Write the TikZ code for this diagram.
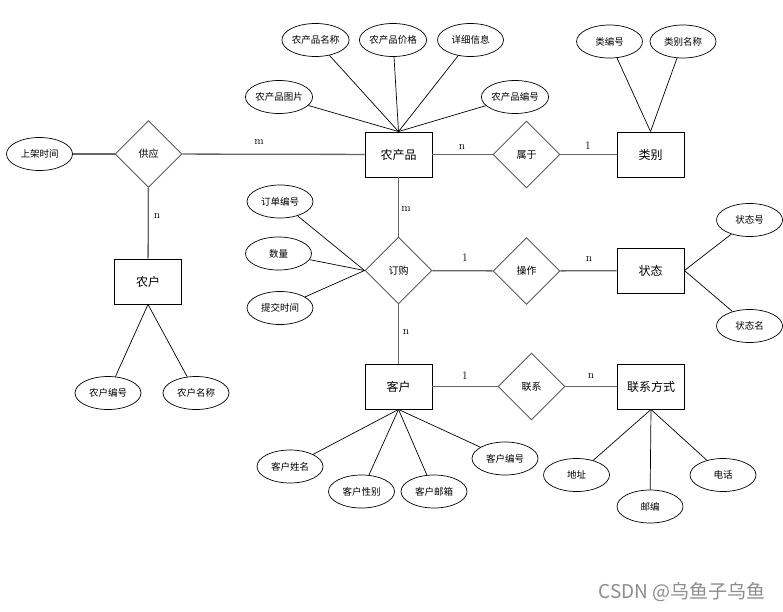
\documentclass[tikz,border=0pt]{standalone}
\usepackage{fontspec}
\newfontfamily\cjk{Noto Sans CJK SC}
\usetikzlibrary{shapes.geometric}
\begin{document}
\begin{tikzpicture}[x=1pt,y=-1pt,
    entity/.style={draw,rectangle,line width=0.9pt,minimum width=67pt,minimum height=45pt,inner sep=0pt,font=\cjk\fontsize{12}{12}\selectfont},
    attr/.style={draw,ellipse,line width=0.7pt,minimum width=66pt,minimum height=33pt,inner sep=0pt,font=\cjk\fontsize{9.5}{10}\selectfont},
    rel/.style={draw=black!65,diamond,line width=0.9pt,minimum width=67pt,minimum height=67pt,inner sep=0pt,font=\cjk\fontsize{10}{10}\selectfont},
    link/.style={black!60,line width=1.3pt},
    spoke/.style={line width=0.7pt},
    card/.style={inner sep=0pt,font=\fontsize{11.5}{11.5}\selectfont}]
    \useasboundingbox (0,0) rectangle (783,611);
    \node [entity] (np) at (398.5,154.5) {农产品};
    \node [entity] (lb) at (650.5,154.5) {类别};
    \node [entity] (nh) at (148,281.5) {农户};
    \node [entity] (zt) at (650.5,270.5) {状态};
    \node [entity] (kh) at (398.5,386.5) {客户};
    \node [entity] (lxfs) at (651,386.5) {联系方式};
    \node [rel] (gy) at (148.5,154) {供应};
    \node [rel] (sy) at (526.5,154.5) {属于};
    \node [rel] (dg) at (398.5,270.5) {订购};
    \node [rel] (cz) at (526.5,271) {操作};
    \node [rel] (lx) at (531.5,386.5) {联系};
    \node [attr] (npmc) at (315.5,40) {农产品名称};
    \node [attr] (npjg) at (393,40) {农产品价格};
    \node [attr] (xxxx) at (470.5,40) {详细信息};
    \node [attr] (nptp) at (279,97) {农产品图片};
    \node [attr] (npbh) at (515,97) {农产品编号};
    \node [attr] (lbh) at (609.5,41.5) {类编号};
    \node [attr] (lbmc) at (683,41.5) {类别名称};
    \node [attr] (zth) at (749.5,220) {状态号};
    \node [attr] (ztm) at (749.5,326) {状态名};
    \node [attr] (sjsj) at (39.5,154) {上架时间};
    \node [attr] (ddbh) at (280,201.5) {订单编号};
    \node [attr] (sl) at (278.5,253.5) {数量};
    \node [attr] (tjsj) at (280,308) {提交时间};
    \node [attr] (nhbh) at (108,393) {农户编号};
    \node [attr] (nhmc) at (196,393) {农户名称};
    \node [attr] (khxm) at (290,466.5) {客户姓名};
    \node [attr] (khxb) at (361.5,491.5) {客户性别};
    \node [attr] (khyx) at (434,491.5) {客户邮箱};
    \node [attr] (khbh) at (505,458.5) {客户编号};
    \node [attr] (dz) at (576.5,475) {地址};
    \node [attr] (yb) at (650,506.5) {邮编};
    \node [attr] (dh) at (723,475) {电话};
    \draw [link] (sjsj) -- (gy);
    \draw [link] (gy) -- (np);
    \draw [link] (gy) -- (nh);
    \draw [link] (np) -- (sy);
    \draw [link] (sy) -- (lb);
    \draw [link] (np) -- (dg);
    \draw [link] (dg) -- (cz);
    \draw [link] (cz) -- (zt);
    \draw [link] (dg) -- (kh);
    \draw [link] (kh) -- (lx);
    \draw [link] (lx) -- (lxfs);
    \foreach \a in {npmc,npjg,xxxx,nptp,npbh}
        \draw [spoke] (\a) -- (np.north);
    \foreach \a in {lbh,lbmc}
        \draw [spoke] (\a) -- (lb.north);
    \foreach \a in {zth,ztm}
        \draw [spoke] (\a) -- (zt.east);
    \foreach \a in {ddbh,sl,tjsj}
        \draw [spoke] (\a) -- (dg.west);
    \foreach \a in {nhbh,nhmc}
        \draw [spoke] (\a) -- (nh.south);
    \foreach \a in {khxm,khxb,khyx,khbh}
        \draw [spoke] (\a) -- (kh.south);
    \foreach \a in {dz,yb,dh}
        \draw [spoke] (\a) -- (lxfs.south);
    \node [card] (c1) at (259,142) {m};
    \node [card] (c2) at (157,216) {n};
    \node [card] (c3) at (462,147) {n};
    \node [card] (c4) at (588,146) {1};
    \node [card] (c5) at (406,209) {m};
    \node [card] (c6) at (465,258) {1};
    \node [card] (c7) at (589,259) {n};
    \node [card] (c8) at (406,332) {n};
    \node [card] (c9) at (465,376) {1};
    \node [card] (c10) at (591,376) {n};
    \node [font=\cjk\fontsize{19}{19}\selectfont,text=black!45] (wm) at (682,592) {CSDN @乌鱼子乌鱼};
\end{tikzpicture}
\end{document}
